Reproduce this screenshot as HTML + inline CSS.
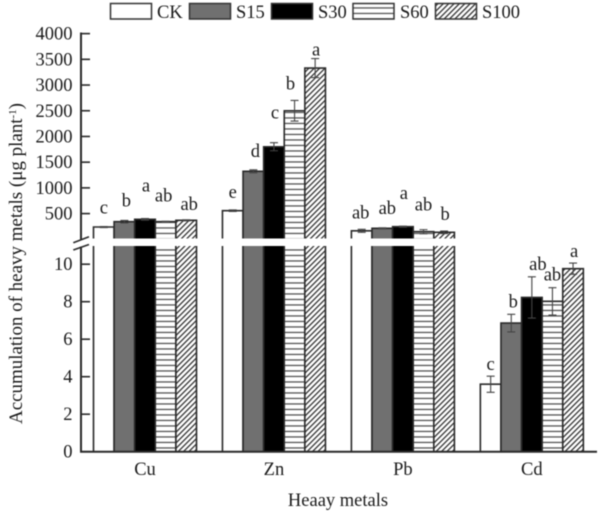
<!DOCTYPE html>
<html lang="en">
<head>
<meta charset="utf-8">
<title>Accumulation of heavy metals</title>
<style>
html,body{margin:0;padding:0;background:#fff;width:600px;height:514px;overflow:hidden}
svg{display:block;filter:blur(0.45px)}
text{font-family:"Liberation Serif",serif;fill:#1a1a1a}
</style>
</head>
<body>
<svg id="chart" width="600" height="514" viewBox="0 0 600 514" xmlns="http://www.w3.org/2000/svg">
<defs>
<pattern id="p-h" patternUnits="userSpaceOnUse" width="8" height="5.5"><rect width="8" height="5.5" fill="#fff"/><rect y="1.8" width="8" height="1.3" fill="#555"/></pattern>
<pattern id="p-d" patternUnits="userSpaceOnUse" width="3.8" height="4" patternTransform="rotate(45)"><rect width="3.8" height="4" fill="#fff"/><rect x="0" width="1.3" height="4" fill="#333"/></pattern>
</defs>
<g>
<g><rect x="110.5" y="3.5" width="41" height="15.5" fill="#fff" stroke="#333" stroke-width="1.5"/><text x="157" y="18" font-size="18.5">CK</text></g>
<g><rect x="189.5" y="3.5" width="41" height="15.5" fill="#707070" stroke="#333" stroke-width="1.5"/><text x="236" y="18" font-size="18.5">S15</text></g>
<g><rect x="271.5" y="3.5" width="41" height="15.5" fill="#000" stroke="#333" stroke-width="1.5"/><text x="318" y="18" font-size="18.5">S30</text></g>
<g><rect x="353" y="3.5" width="41" height="15.5" fill="url(#p-h)" stroke="#333" stroke-width="1.5"/><text x="400" y="18" font-size="18.5">S60</text></g>
<g><rect x="435.5" y="3.5" width="41" height="15.5" fill="url(#p-d)" stroke="#333" stroke-width="1.5"/><text x="482" y="18" font-size="18.5">S100</text></g>
</g>
<text transform="translate(22,424) rotate(-90)" font-size="19" textLength="321" lengthAdjust="spacingAndGlyphs">Accumulation of heavy metals (μg plant<tspan dy="-6" font-size="11">-1</tspan><tspan dy="6">)</tspan></text>
<text x="338" y="506" font-size="18.5" text-anchor="middle">Heaay metals</text>
<g id="marks"></g>
<g id="axes"></g>
</svg>
<script>
const categories = ['Cu', 'Zn', 'Pb', 'Cd'];
const seriesNames = ['CK', 'S15', 'S30', 'S60', 'S100'];
const ck = [239, 556, 165, 3.6];
const s15 = [342, 1322, 214, 6.86];
const s30 = [389, 1800, 245, 8.23];
const s60 = [342, 2500, 148, 8.02];
const s100 = [369, 3330, 136, 9.76];
const ckErr = [10, 15, 30, 0.43];
const s15Err = [25, 30, 10, 0.47];
const s30Err = [15, 78, 10, 1.1];
const s60Err = [8, 200, 40, 0.73];
const s100Err = [10, 185, 25, 0.3];
const ckSig = ['c', 'e', 'ab', 'c'];
const s15Sig = ['b', 'd', 'ab', 'b'];
const s30Sig = ['a', 'c', 'a', 'ab'];
const s60Sig = ['ab', 'b', 'ab', 'ab'];
const s100Sig = ['ab', 'a', 'b', 'a'];
const upperTicks = [500, 1000, 1500, 2000, 2500, 3000, 3500, 4000];
const lowerTicks = [0, 2, 4, 6, 8, 10];

const values = [ck, s15, s30, s60, s100];
const errors = [ckErr, s15Err, s30Err, s60Err, s100Err];
const sigs = [ckSig, s15Sig, s30Sig, s60Sig, s100Sig];
const fills = ['#fff', '#707070', '#000', 'url(#p-h)', 'url(#p-d)'];
const AX = '#2a2a2a';
const NS = 'http://www.w3.org/2000/svg';
const marks = document.getElementById('marks');
const axes = document.getElementById('axes');

function yUpper(v) { return 239.3 - v * (25.71 / 500); }
function yLower(v) { return 451.7 - v * 18.75; }
function yAny(v, g) { return g === 3 ? yLower(v) : yUpper(v); }
function xBar(g, s) { return 93.5 + g * 128.95 + s * 20.6; }
function xCenter(g) { return 145 + g * 128.95; }

function mk(parent, tag, attrs) {
  const el = document.createElementNS(NS, tag);
  for (const k in attrs) el.setAttribute(k, attrs[k]);
  parent.appendChild(el);
  return el;
}

categories.forEach(function (cat, g) {
  seriesNames.forEach(function (name, s) {
    const v = values[s][g];
    const e = errors[s][g];
    const x0 = xBar(g, s), w = 20.6, top = yAny(v, g);
    const stroke = '#2a2a2a';
    let group = mk(marks, 'g', {});
    
    
    if (g === 3) {
      mk(group, 'rect', { x: x0, y: top, width: w, height: 451.7 - top, fill: fills[s] });
      mk(group, 'path', { d: `M${x0} 451.7V${top}H${x0 + w}V451.7`, fill: 'none', stroke: stroke, 'stroke-width': 1.6 });
    } else {
      mk(group, 'rect', { x: x0, y: 246, width: w, height: 205.7, fill: fills[s] });
      mk(group, 'rect', { x: x0, y: top, width: w, height: 238.5 - top, fill: fills[s] });
      mk(group, 'path', { d: `M${x0} 451.7V246M${x0 + w} 451.7V246M${x0} 238.5V${top}H${x0 + w}V238.5`, fill: 'none', stroke: stroke, 'stroke-width': 1.6 });
    }
    const cx = x0 + w / 2;
    const yHi = yAny(v + e, g), yLo = yAny(v - e, g);
    let err = mk(group, 'path', { d: `M${cx} ${yHi}V${yLo}M${cx - 4} ${yHi}H${cx + 4}M${cx - 4} ${yLo}H${cx + 4}`, fill: 'none', stroke: '#444', 'stroke-width': 1.1 });
    
    
  });
});

// significance letters sit above each bar's error cap
const labelNudgeX = [[0, 2, 1, -2, 3], [0, 2, 1, -4, 1], [-1, 5, 1, 0, 1], [0, 2, 6, 0, 1]];
const labelGapY = [[13, 14, 27, 20, 10], [12, 13, 24, 11, 3], [11, 14, 27, 19, 11], [6, 7, 7, 7, 6]];
categories.forEach(function (cat, g) {
  seriesNames.forEach(function (name, s) {
    const v = values[s][g], e = errors[s][g];
    const yTop = yAny(v + e, g);
    let t = mk(marks, 'text', { x: xBar(g, s) + 10.3 + labelNudgeX[g][s], y: yTop - labelGapY[g][s], 'font-size': 18.5, 'text-anchor': 'middle' });
    t.textContent = sigs[s][g];
    
    
  });
  let c = mk(axes, 'text', { x: xCenter(g), y: 475, 'font-size': 18.5, 'text-anchor': 'middle' });
  c.textContent = cat;
  
  
});

let yLine = mk(axes, 'path', { d: 'M81 32.5V239.5M81 246.5V452', fill: 'none', stroke: AX, 'stroke-width': 2 });


let xLine = mk(axes, 'line', { x1: 80, x2: 597, y1: 451.7, y2: 451.7, stroke: AX, 'stroke-width': 2 });


let brk = mk(axes, 'path', { d: 'M73.3 242.7L89 236.7M73.3 250L89 244.5', fill: 'none', stroke: AX, 'stroke-width': 1.6 });



function drawTick(v, y) {
  let tk = mk(axes, 'line', { x1: 81, x2: 90, y1: y, y2: y, stroke: AX, 'stroke-width': 1.6 });
  
  
  let lb = mk(axes, 'text', { x: 72.5, y: y + 6, 'font-size': 18.5, 'text-anchor': 'end' });
  lb.textContent = v;
  
  
}
upperTicks.forEach(function (v) { drawTick(v, yUpper(v)); });
lowerTicks.forEach(function (v) { drawTick(v, yLower(v)); });
</script>
</body>
</html>
